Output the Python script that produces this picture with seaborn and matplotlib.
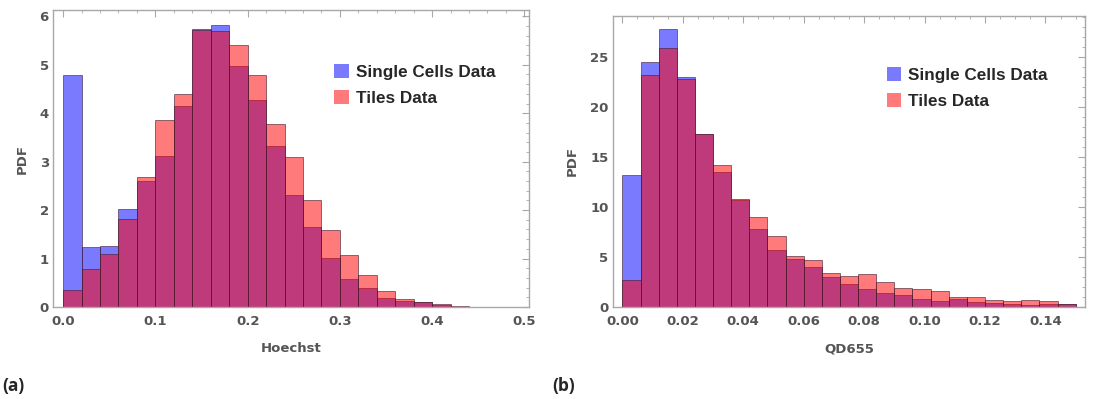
import numpy as np
import pandas as pd
import seaborn as sns
import matplotlib
matplotlib.use("Agg")
import matplotlib.pyplot as plt
from matplotlib.ticker import MultipleLocator, FormatStrFormatter
from matplotlib.patches import Patch

# ---- data (PDF per bin) ----
hoechst_edges = [round(0.02 * i, 4) for i in range(26)]
hoechst_single = [4.78, 1.24, 1.26, 2.03, 2.61, 3.12, 4.14, 5.74, 5.82, 4.98,
                  4.28, 3.32, 2.32, 1.66, 1.02, 0.57, 0.40, 0.18, 0.12, 0.10,
                  0.05, 0.01, 0.005, 0.004, 0.003]
hoechst_tiles = [0.345, 0.79, 1.09, 1.81, 2.68, 3.85, 4.40, 5.72, 5.70, 5.41,
                 4.78, 3.77, 3.10, 2.20, 1.59, 1.08, 0.66, 0.32, 0.17, 0.11,
                 0.06, 0.02, 0.006, 0.005, 0.004]

qd_edges = [round(0.006 * i, 4) for i in range(26)]
qd_single = [13.2, 24.57, 27.8, 23.06, 17.31, 13.5, 10.7, 7.82, 5.75, 4.78,
             4.0, 3.0, 2.31, 1.77, 1.40, 1.20, 0.77, 0.57, 0.77, 0.47,
             0.37, 0.33, 0.20, 0.30, 0.27]
qd_tiles = [2.74, 23.2, 25.97, 22.83, 17.31, 14.2, 10.83, 9.02, 7.15, 5.11,
            4.75, 3.38, 3.07, 3.28, 2.51, 1.94, 1.84, 1.64, 1.04, 0.97,
            0.74, 0.57, 0.67, 0.57, 0.27]

labels = ["Single Cells Data", "Tiles Data"]
BLUE = (0.0, 0.0, 1.0)
RED = (1.0, 0.0, 0.0)

sns.set_theme(style="white")
plt.rcParams["font.family"] = ["Liberation Sans", "DejaVu Sans"]

fig = plt.figure(figsize=(10.94, 3.99), dpi=100)
ax1 = fig.add_axes([53/1094, 1-307/399, 476/1094, 297/399])
ax2 = fig.add_axes([612.7/1094, 1-307/399, 472.3/1094, 291.3/399])

GRAY = "#a8a8a8"
TXT = "#555555"
TICKFONT = ["DejaVu Sans"]


def panel(ax, edges, single, tiles, xlim, ylim, xmaj, xmin, ymaj, ymin, xfmt, xlabel):
    e = np.asarray(edges)
    centers = list((e[:-1] + e[1:]) / 2)
    for vals, col in zip([single, tiles], [BLUE, RED]):
        sub = pd.DataFrame({"x": centers, "w": list(vals)})
        sns.histplot(data=sub, x="x", weights="w", bins=list(edges), stat="count",
                     color=col, alpha=0.52, edgecolor=(0.25, 0.12, 0.2, 0.6),
                     linewidth=0.7, ax=ax)
    ax.set_xlim(*xlim)
    ax.set_ylim(*ylim)
    ax.xaxis.set_major_locator(MultipleLocator(xmaj))
    ax.xaxis.set_minor_locator(MultipleLocator(xmin))
    ax.yaxis.set_major_locator(MultipleLocator(ymaj))
    ax.yaxis.set_minor_locator(MultipleLocator(ymin))
    ax.xaxis.set_major_formatter(FormatStrFormatter(xfmt))
    ax.yaxis.set_major_formatter(FormatStrFormatter("%d"))
    ax.tick_params(which="both", direction="in", top=True, right=True,
                   color=GRAY, labelcolor=TXT, labelsize=9.5)
    ax.tick_params(which="major", length=5, width=0.8)
    ax.tick_params(which="minor", length=2.5, width=0.6)
    ax.tick_params(axis="x", which="major", pad=6)
    ax.tick_params(axis="y", which="major", pad=3)
    for lab in ax.get_xticklabels() + ax.get_yticklabels():
        lab.set_fontweight("bold")
        lab.set_family(TICKFONT)
    for s in ax.spines.values():
        s.set_color(GRAY)
        s.set_linewidth(1.0)
    ax.set_xlabel(xlabel, color=TXT, fontsize=9.5, fontweight="bold",
                  family=TICKFONT, labelpad=10)
    ax.set_ylabel("PDF", color=TXT, fontsize=9.5, fontweight="bold",
                  family=TICKFONT, labelpad=8)
    handles = [Patch(facecolor=BLUE, alpha=0.52, edgecolor="none"),
               Patch(facecolor=RED, alpha=0.52, edgecolor="none")]
    return handles


legkw = dict(loc="upper left", frameon=False,
             prop={"family": "Liberation Sans", "weight": "bold", "size": 12.3},
             handlelength=0.85, handleheight=0.85, handletextpad=0.4,
             labelspacing=0.6, borderaxespad=0)

h = panel(ax1, hoechst_edges, hoechst_single, hoechst_tiles, (-0.011, 0.505), (0, 6.13),
          0.1, 0.02, 1, 0.2, "%.1f", "Hoechst")
ax1.legend(h, labels, bbox_to_anchor=(0.577, 0.84), **legkw)

h = panel(ax2, qd_edges, qd_single, qd_tiles, (-0.0032, 0.1531), (0, 29.18),
          0.02, 0.005, 5, 1, "%.2f", "QD655")
ax2.legend(h, labels, bbox_to_anchor=(0.566, 0.847), **legkw)

fig.text(2/1094, 1-386/399, "(a)", fontsize=12.5, fontweight="bold",
         family=["Open Sans", "DejaVu Sans"], va="center", ha="left")
fig.text(552/1094, 1-386/399, "(b)", fontsize=12.5, fontweight="bold",
         family=["Open Sans", "DejaVu Sans"], va="center", ha="left")

fig.savefig("out.png", dpi=100)
